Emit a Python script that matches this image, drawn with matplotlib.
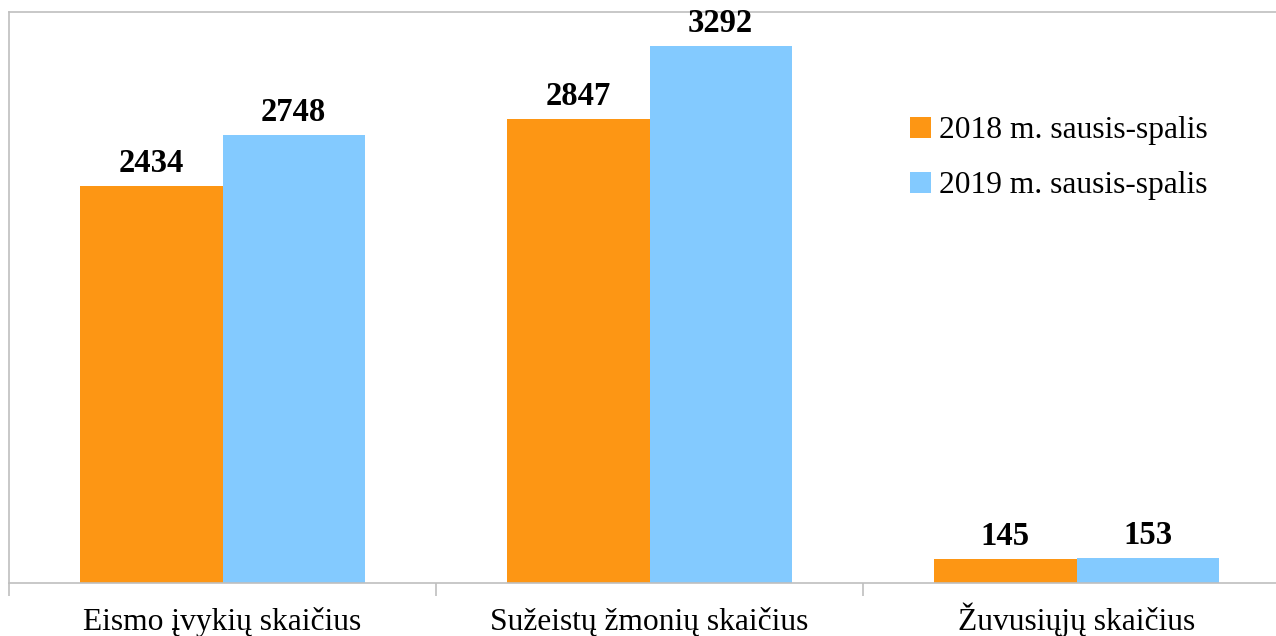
import numpy as np
import matplotlib.pyplot as plt

# Data
categories = ['Eismo įvykių skaičius', 'Sužeistų žmonių skaičius', 'Žuvusiųjų skaičius']
series_2018 = [2434, 2847, 145]
series_2019 = [2748, 3292, 153]
labels = ['2018 m. sausis-spalis', '2019 m. sausis-spalis']

plt.rcParams['font.family'] = ['Liberation Serif', 'DejaVu Serif']

fig = plt.figure(figsize=(12.76, 6.36), dpi=100)
ax = fig.add_axes([9 / 1276, 53 / 636, 1281 / 1276, 571 / 636])

x = np.arange(len(categories))
w = 1 / 3
b1 = ax.bar(x - w / 2, series_2018, w, color='#FD9614', label=labels[0])
b2 = ax.bar(x + w / 2, series_2019, w, color='#83CAFF', label=labels[1])

for bars in (b1, b2):
    for rect in bars:
        h = rect.get_height()
        ax.annotate(f'{int(h)}', (rect.get_x() + rect.get_width() / 2, h),
                    xytext=(0, 10), textcoords='offset points',
                    ha='center', va='baseline', fontsize=23.5, fontweight='bold')

ax.set_xlim(-0.5, 2.5)
ax.set_ylim(0, 3500)

# category boundaries as tick marks, names centred between them
ax.set_xticks(np.arange(-0.5, 3.0, 1.0))
ax.set_xticklabels([])
ax.tick_params(axis='x', which='major', length=9, width=1.2, color='#BFBFBF')
ax.set_xticks(x, minor=True)
ax.set_xticklabels(categories, minor=True, fontsize=22.7)
ax.tick_params(axis='x', which='minor', length=0, pad=34)
for lbl in ax.get_xticklabels(minor=True):
    lbl.set_va('baseline')
ax.set_yticks([])

for s in ax.spines.values():
    s.set_color('#BFBFBF')
    s.set_linewidth(1.2)

leg = ax.legend(loc='upper left', bbox_to_anchor=(882 / 1276, 1 - 88 / 636),
                bbox_transform=fig.transFigure, frameon=False, fontsize=22.7,
                handlelength=0.65, handleheight=0.65, handletextpad=0.25,
                labelspacing=0.82)

plt.savefig('out.png', dpi=100)
plt.close()
